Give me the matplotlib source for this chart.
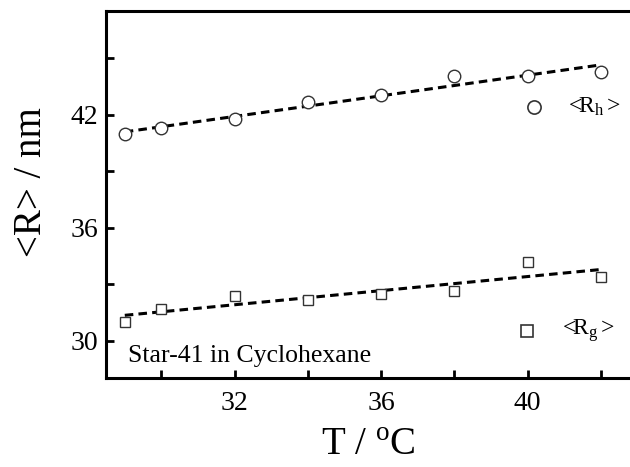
import matplotlib
matplotlib.use('Agg')
import matplotlib.pyplot as plt
import numpy as np
from matplotlib import rcParams

rcParams['font.family'] = 'Liberation Serif'
rcParams['mathtext.fontset'] = 'custom'
rcParams['mathtext.rm'] = 'Liberation Serif'
rcParams['mathtext.it'] = 'Liberation Serif:italic'

# temperatures (C)
temps = [29, 30, 32, 34, 36, 38, 40, 42]
# hydrodynamic radius <Rh> (nm)
rh = [40.97, 41.27, 41.77, 42.69, 43.06, 44.05, 44.05, 44.27]
# radius of gyration <Rg> (nm)
rg = [30.97, 31.68, 32.39, 32.18, 32.48, 32.66, 34.19, 33.38]

x_major = [32, 36, 40]
x_minor = [30, 34, 38, 42]
y_major = [30, 36, 42]
y_minor = [33, 39, 45]

fig = plt.figure(figsize=(6.3, 4.67), dpi=100)
ax = fig.add_axes([0.169, 0.19, 0.872, 0.786])

t = np.array(temps, dtype=float)
for vals, mk, ms in [(rh, 'o', 9), (rg, 's', 7.5)]:
    ax.plot(t, vals, ls='none', marker=mk, ms=ms, mfc='white',
            mec='#333333', mew=1.0, zorder=3)
    # linear fit, dashed
    k, b = np.polyfit(t, vals, 1)
    ax.plot(t[[0, -1]], k * t[[0, -1]] + b, color='black', lw=2.2,
            ls=(0, (2.8, 1.7)), zorder=2)

# legend-like keys
ax.plot([0.778], [0.739], transform=ax.transAxes, marker='o', ms=9.5,
        mfc='white', mec='#333333', mew=1.2, clip_on=False)
ax.text(0.84, 0.739, '<R$_{\\mathrm{h}}\\,$>', transform=ax.transAxes,
        fontsize=17, va='center', ha='left')
ax.plot([0.765], [0.130], transform=ax.transAxes, marker='s', ms=9,
        mfc='white', mec='#333333', mew=1.2, clip_on=False)
ax.text(0.83, 0.130, '<R$_{\\mathrm{g}}\\,$>', transform=ax.transAxes,
        fontsize=17, va='center', ha='left')

ax.text(0.04, 0.045, 'Star-41 in Cyclohexane', transform=ax.transAxes,
        fontsize=18.5, va='baseline', ha='left')

ax.set_xlim(28.5, 43.5)
ax.set_ylim(28, 47.5)
ax.set_xticks(x_major)
ax.set_xticks(x_minor, minor=True)
ax.set_yticks(y_major)
ax.set_yticks(y_minor, minor=True)
ax.tick_params(which='both', direction='in', length=6, width=2,
               labelsize=20, top=False, right=False)
ax.tick_params(axis='x', pad=9)
ax.tick_params(axis='y', pad=6)
for s in ax.spines.values():
    s.set_linewidth(2.2)

ax.set_xlabel('T / $^\\mathrm{o}$C', fontsize=28, va='baseline')
ax.xaxis.set_label_coords(0.476, -0.21)
ax.set_ylabel('<R> / nm', fontsize=28)
ax.yaxis.set_label_coords(-0.103, 0.534)

fig.savefig('out.png', dpi=100)
